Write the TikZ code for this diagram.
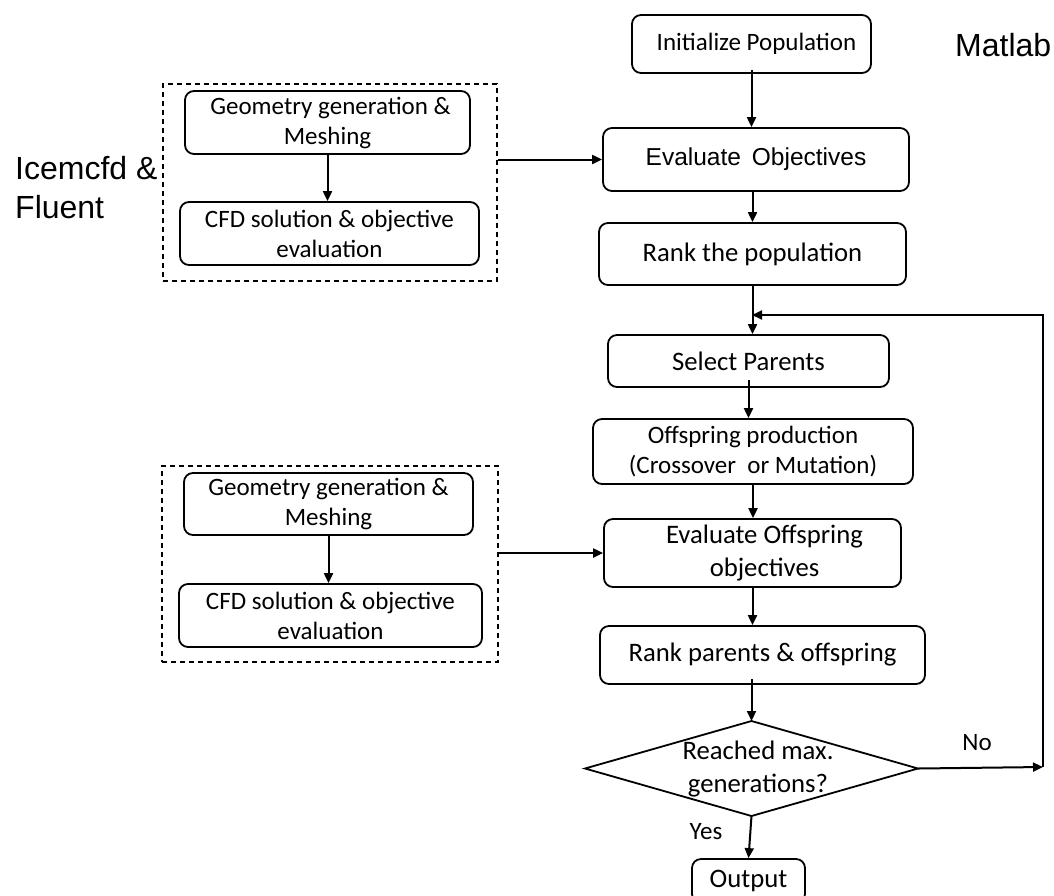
\documentclass[tikz,border=0pt]{standalone}
\usepackage{fontspec}
\setmainfont{Carlito}
\newfontfamily\arialf{Liberation Sans}
\usetikzlibrary{arrows.meta,calc}
\begin{document}
\begin{tikzpicture}[x=1pt,y=-1pt,
  box/.style={draw,line width=1.8pt,rounded corners=9pt,inner sep=0pt,align=center},
  sbox/.style={box,font=\fontsize{25}{30}\selectfont},
  mbox/.style={box,font=\fontsize{26.7}{33}\selectfont},
  dbox/.style={draw,line width=1.2pt,dash pattern=on 5pt off 4pt,inner sep=0pt},
  arr/.style={line width=2pt,-{Triangle[length=10pt,width=9pt]}},
  lbl/.style={inner sep=0pt,font=\fontsize{25}{30}\selectfont},
  big/.style={inner sep=0pt,align=left,font=\arialf\fontsize{32}{39}\selectfont}]
\clip (0,0) rectangle (1054,895);
\fill[white] (0,0) rectangle (1054,895);

% right column
\node[sbox,minimum width=239pt,minimum height=58pt] (init) at (751.5,44) {\hspace*{10pt}Initialize Population};
\node[box,minimum width=306pt,minimum height=63pt,font=\arialf\fontsize{24.5}{30}\selectfont] (eval) at (756,159.5) {Evaluate\ \,Objectives};
\node[mbox,minimum width=307pt,minimum height=62pt] (rank) at (752.5,254) {Rank the population};
\node[mbox,minimum width=281pt,minimum height=52pt] (select) at (748.5,361) {Select Parents};
\node[sbox,minimum width=320pt,minimum height=65pt] (offs) at (753,451.5) {Offspring production\\(Crossover\ \ or Mutation)};
\node[mbox,minimum width=297pt,minimum height=68pt] (evoff) at (752.5,553) {\hspace*{24pt}Evaluate Offspring\\\hspace*{24pt}objectives};
\node[mbox,minimum width=325pt,minimum height=58pt] (rankpo) at (762.5,655) {Rank parents \& offspring};

% decision diamond
\coordinate (decT) at (751.5,721);
\coordinate (decB) at (751.5,816);
\coordinate (decL) at (585,768.5);
\coordinate (decR) at (918,768.5);
\draw[line width=1.8pt,line join=miter] (decT) -- (decR) -- (decB) -- (decL) -- cycle;
\node[inner sep=0pt,align=center,font=\fontsize{26.7}{33}\selectfont] (dec) at (758,769) {Reached max.\\generations?};

\node[mbox,minimum width=113pt,minimum height=44pt] (out) at (748.5,881) {Output};

% labels
\node[big,anchor=west] (matlab) at (955,45) {Matlab};
\node[big,anchor=west] (icem) at (15,187.5) {Icemcfd \&\\Fluent};
\node[lbl] (no) at (977,743) {No};
\node[lbl] (yes) at (706,832) {Yes};

% left groups
\node[dbox,minimum width=334pt,minimum height=197pt] (dash1) at (330,182.5) {};
\node[sbox,minimum width=285pt,minimum height=63pt] (geo1) at (327.5,122.5) {\hspace*{6pt}Geometry generation \&\\Meshing};
\node[sbox,minimum width=299pt,minimum height=63pt] (cfd1) at (329.5,233.5) {CFD solution \& objective\\evaluation};
\node[dbox,minimum width=336pt,minimum height=196pt] (dash2) at (330,564) {};
\node[sbox,minimum width=289pt,minimum height=62pt] (geo2) at (328.5,504) {Geometry generation \&\\Meshing};
\node[sbox,minimum width=303pt,minimum height=63pt] (cfd2) at (330.5,615.5) {CFD solution \& objective\\evaluation};

% connectors
\draw[arr] ([yshift=4pt]init.south) -- (init.south |- eval.north);
\draw[arr] (rank |- eval.south) -- (rank.north);
\draw[arr] (rank.south) -- (rank.south |- select.north);
\draw[arr] ([yshift=8pt]select.south) -- (select.south |- offs.north);
\draw[arr] (offs.south) -- (offs.south |- evoff.north);
\draw[arr] (evoff.south) -- (evoff.south |- rankpo.north);
\draw[arr] ([yshift=6pt]rankpo.south -| decT) -- (decT);
\draw[arr] (decB) -- (out.north);
\coordinate (fb) at (1043,767);
\coordinate (fbtop) at (1043,315);
\coordinate (merge) at (752,315);
\draw[arr] (decR) -- (fb);
\draw[arr] (fb) -- (fbtop) -- (merge);
\draw[arr] (geo1.south) -- (geo1.south |- cfd1.north);
\draw[arr] (geo2.south) -- (geo2.south |- cfd2.north);
\draw[arr] (dash1.east |- eval.west) -- (eval.west);
\draw[arr] (dash2.east |- evoff.west) -- (evoff.west);
\end{tikzpicture}
\end{document}
